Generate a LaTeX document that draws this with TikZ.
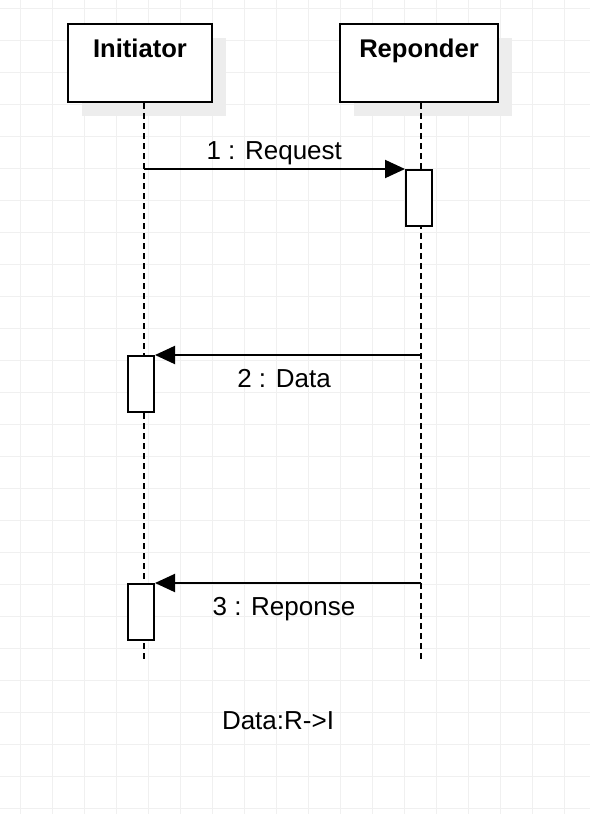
\documentclass[tikz,border=0pt]{standalone}
\usepackage{fontspec}
\setmainfont{Liberation Sans}
\usetikzlibrary{positioning,arrows.meta,shadows}
\begin{document}
\begin{tikzpicture}[x=1pt,y=-1pt,font=\fontsize{26}{30}\selectfont,
   lane/.style={draw,line width=2pt,fill=white,minimum height=78pt,inner sep=0pt,
      drop shadow={shadow xshift=14pt,shadow yshift=-14pt,fill=black!7,opacity=1}},
   act/.style={draw,line width=2pt,fill=white,minimum width=26pt,minimum height=56pt,inner sep=0pt},
   life/.style={dashed,dash pattern=on 6pt off 4pt,line width=2pt},
   msg/.style={-{Triangle[length=20pt,width=18pt]},line width=2pt}]
\useasboundingbox (0,0) rectangle (590,814);
% grid
\foreach \i in {0,...,17} \draw[black!6,line width=1pt] (20.7+32*\i,0) -- ++(0,814);
\foreach \i in {0,...,25} \draw[black!6,line width=1pt] (0,8.3+32*\i) -- ++(590,0);
% lifelines
\foreach \t/\x/\w/\l [count=\n] in {Initiator/140/144/143.5,Reponder/419/158/421} {
   \node[lane,minimum width=\w pt] (N\n) at (\x,63) {};
   \node[font=\bfseries\fontsize{25.6}{30}\selectfont,below=12pt of N\n.north] (T\n) {\t};
   \coordinate (E\n) at (\l,662);
   \draw[life] (E\n |- N\n.south) -- (E\n);
}
\node[act] (A1) at (419,198) {};
\node[act] (A2) at (141,384) {};
\node[act] (A3) at (141,612) {};
\draw[msg] (E1 |- A1.north) -- node[above] (M1) {1 : Request} (A1.north west);
\draw[msg] (E2 |- A2.north) -- node[below=10pt,xshift=-4pt] (M2) {2 : Data} (A2.north east);
\draw[msg] (E2 |- A3.north) -- node[below=10pt,xshift=-4pt] (M3) {3 : Reponse} (A3.north east);
\node (D) at (278,721) {Data:R->I};
\end{tikzpicture}
\end{document}
